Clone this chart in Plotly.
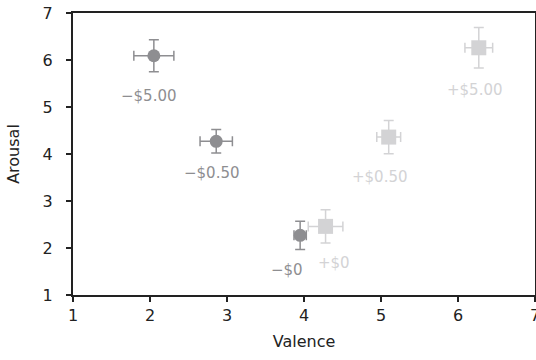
import plotly.graph_objects as go

# Loss conditions (circles)
loss_labels = ["−$5.00", "−$0.50", "−$0"]
loss_valence = [2.05, 2.86, 3.95]
loss_arousal = [6.09, 4.27, 2.27]
loss_val_err = [0.26, 0.21, 0.08]
loss_aro_err = [0.34, 0.25, 0.30]

# Gain conditions (squares)
gain_labels = ["+$5.00", "+$0.50", "+$0"]
gain_valence = [6.27, 5.10, 4.28]
gain_arousal = [6.26, 4.36, 2.46]
gain_val_err = [0.18, 0.155, 0.225]
gain_aro_err = [0.43, 0.355, 0.355]

# label offsets (pixels) relative to each point
loss_shift_x = [-5, -4, -13]
loss_shift_y = [-40, -32, -35]
gain_shift_x = [-4, -9, 8]
gain_shift_y = [-42, -40, -37]

x_ticks = [1, 2, 3, 4, 5, 6, 7]
y_ticks = [1, 2, 3, 4, 5, 6, 7]

DARK = "#8e8e91"
LIGHT = "#d3d3d5"
FONT = "DejaVu Sans"

fig = go.Figure()

fig.add_trace(go.Scatter(
    x=loss_valence, y=loss_arousal, mode="markers",
    marker=dict(symbol="circle", size=13, color=DARK),
    error_x=dict(type="data", array=loss_val_err, color=DARK, thickness=1.5, width=5),
    error_y=dict(type="data", array=loss_aro_err, color=DARK, thickness=1.5, width=5),
    showlegend=False, hoverinfo="skip",
))
fig.add_trace(go.Scatter(
    x=gain_valence, y=gain_arousal, mode="markers",
    marker=dict(symbol="square", size=15, color=LIGHT),
    error_x=dict(type="data", array=gain_val_err, color=LIGHT, thickness=1.5, width=5),
    error_y=dict(type="data", array=gain_aro_err, color=LIGHT, thickness=1.5, width=5),
    showlegend=False, hoverinfo="skip",
))

for lab, x, y, dx, dy in zip(loss_labels, loss_valence, loss_arousal, loss_shift_x, loss_shift_y):
    fig.add_annotation(x=x, y=y, text=lab, showarrow=False, xshift=dx, yshift=dy,
                       font=dict(family=FONT, size=15, color=DARK))
for lab, x, y, dx, dy in zip(gain_labels, gain_valence, gain_arousal, gain_shift_x, gain_shift_y):
    fig.add_annotation(x=x, y=y, text=lab, showarrow=False, xshift=dx, yshift=dy,
                       font=dict(family=FONT, size=15, color=LIGHT))

axis_common = dict(
    showgrid=False, zeroline=False, showline=True, linecolor="#222222", linewidth=2,
    mirror=True, ticks="outside", ticklen=5, tickwidth=2, tickcolor="#222222",
    tickfont=dict(family=FONT, size=16, color="#222222"), automargin=False,
    ticklabeloverflow="allow",
)

fig.update_layout(
    width=536, height=360,
    margin=dict(l=73, r=1, t=13, b=65),
    paper_bgcolor="white", plot_bgcolor="white",
    xaxis=dict(range=[1, 7], tickvals=x_ticks, title=dict(text="Valence", standoff=12,
               font=dict(family=FONT, size=16, color="#222222")), **axis_common),
    yaxis=dict(range=[1, 7], tickvals=y_ticks, title=dict(text="Arousal", standoff=19,
               font=dict(family=FONT, size=16, color="#222222")), ticklabelstandoff=10, **axis_common),
)

fig.write_html("out.html", config={"displayModeBar": False},
               post_script="document.body.style.margin='0';document.body.style.overflow='hidden';")
